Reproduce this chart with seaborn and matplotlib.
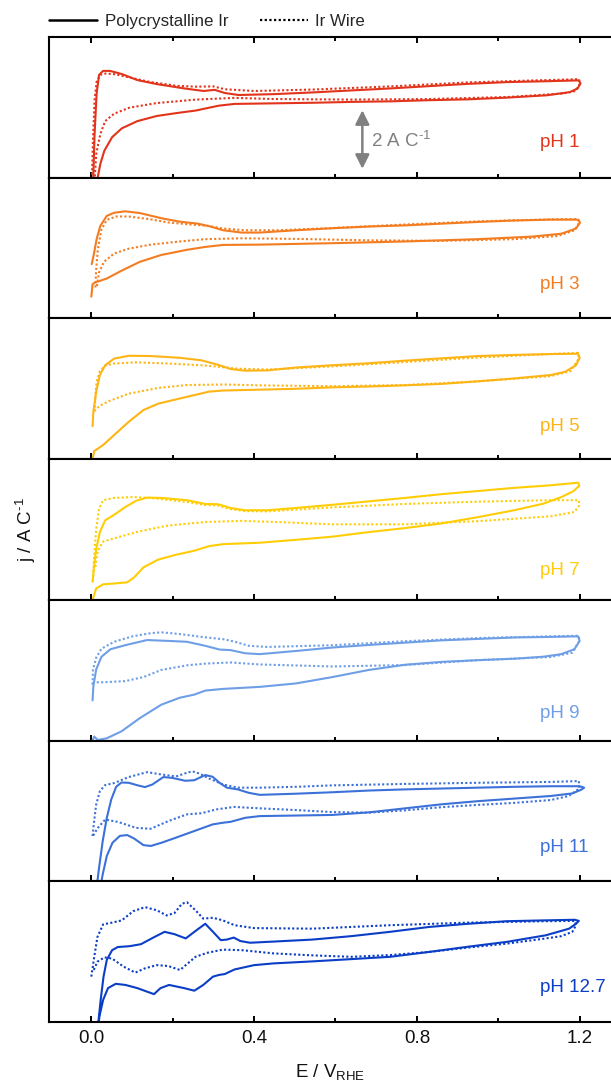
import numpy as np
import pandas as pd
import matplotlib
matplotlib.use("Agg")
import matplotlib.pyplot as plt
from matplotlib.lines import Line2D
import seaborn as sns

# ---------------- data (E in V vs RHE, j in A C^-1, offset to panel centre) -------------
PH_LABELS = ["pH 1", "pH 3", "pH 5", "pH 7", "pH 9", "pH 11", "pH 12.7"]
COLORS = ["#E2331B", "#F47C20", "#FDB515", "#FFCD05", "#6E9FE6", "#3C71D9", "#0B3EC6"]
LABEL_Y = [-1.24, -1.26, -1.30, -1.44, -1.49, -1.28, -1.25]
SCALE_BAR = [-2.14, -0.10]
X_TICKS = [0.0, 0.4, 0.8, 1.2]
X_TICKLABELS = ["0.0", "0.4", "0.8", "1.2"]
X_MINOR = [0.2, 0.6, 1.0]

# pH 1
E_PH1_POLY = [0.004, 0.008, 0.013, 0.019, 0.029, 0.046, 0.075, 0.113, 0.161, 0.228, 0.276, 0.303, 0.328, 0.362,
              0.448, 0.544, 0.640, 0.736, 0.831, 0.927, 1.023, 1.119, 1.198,
              1.202, 1.195, 1.176, 1.119, 1.023, 0.927, 0.831, 0.736, 0.640, 0.544, 0.448, 0.352, 0.314, 0.290,
              0.257, 0.209, 0.161, 0.113, 0.075, 0.051, 0.032, 0.022, 0.014, 0.011]
J_PH1_POLY = [-2.8, -0.93, 0.48, 1.13, 1.27, 1.27, 1.16, 0.95, 0.81, 0.66, 0.57, 0.61, 0.50, 0.43,
              0.46, 0.52, 0.59, 0.66, 0.74, 0.82, 0.88, 0.91, 0.94,
              0.83, 0.66, 0.53, 0.42, 0.34, 0.28, 0.25, 0.21, 0.19, 0.16, 0.14, 0.12, 0.06, -0.01,
              -0.11, -0.20, -0.30, -0.48, -0.73, -1.04, -1.51, -1.98, -2.57, -3.3]
E_PH1_WIRE = [0.001, 0.004, 0.008, 0.013, 0.022, 0.036, 0.060, 0.094, 0.142, 0.209, 0.257, 0.300, 0.328, 0.400,
              0.544, 0.736, 0.927, 1.119, 1.198,
              1.201, 1.190, 1.157, 1.023, 0.831, 0.640, 0.448, 0.352, 0.257, 0.161, 0.094, 0.056, 0.034, 0.022,
              0.012, 0.008]
J_PH1_WIRE = [-2.8, -1.16, 0.25, 0.89, 1.13, 1.18, 1.15, 1.04, 0.89, 0.75, 0.72, 0.73, 0.63, 0.57,
              0.62, 0.73, 0.87, 0.95, 0.98,
              0.83, 0.57, 0.48, 0.36, 0.29, 0.27, 0.29, 0.33, 0.27, 0.15, -0.01, -0.22, -0.48, -0.93,
              -1.63, -2.57]

# pH 3
E_PH3_POLY = [0.001, 0.007, 0.013, 0.022, 0.038, 0.056, 0.083, 0.119, 0.172, 0.217, 0.262, 0.293, 0.324, 0.369,
              0.414, 0.503, 0.592, 0.682, 0.771, 0.860, 0.950, 1.039, 1.129, 1.196,
              1.201, 1.191, 1.155, 1.084, 0.950, 0.771, 0.592, 0.414, 0.324, 0.280, 0.235, 0.172, 0.119,
              0.074, 0.038, 0.009, 0.003, 0.000]
J_PH3_POLY = [-0.56, -0.16, 0.31, 0.77, 1.12, 1.23, 1.28, 1.22, 1.04, 0.92, 0.85, 0.75, 0.62, 0.54,
              0.54, 0.62, 0.69, 0.75, 0.79, 0.85, 0.91, 0.96, 0.99, 0.99,
              0.89, 0.68, 0.50, 0.40, 0.31, 0.23, 0.17, 0.12, 0.11, 0.04, -0.06, -0.24, -0.48,
              -0.79, -1.06, -1.20, -1.26, -1.69]
E_PH3_WIRE = [0.010, 0.012, 0.016, 0.025, 0.038, 0.061, 0.092, 0.146, 0.190, 0.253, 0.284, 0.324, 0.378, 0.458,
              0.592, 0.771, 0.950, 1.129, 1.196,
              1.199, 1.187, 1.146, 1.039, 0.860, 0.682, 0.503, 0.369, 0.280, 0.217, 0.146, 0.092, 0.056,
              0.031, 0.019, 0.013]
J_PH3_WIRE = [-1.37, -0.74, -0.04, 0.65, 0.98, 1.10, 1.10, 1.00, 0.89, 0.81, 0.78, 0.68, 0.62, 0.62,
              0.70, 0.82, 0.93, 1.00, 1.01,
              0.89, 0.62, 0.42, 0.31, 0.25, 0.27, 0.32, 0.34, 0.31, 0.23, 0.12, -0.02, -0.19,
              -0.48, -0.85, -1.37]

# pH 5
E_PH5_POLY = [0.003, 0.005, 0.012, 0.021, 0.034, 0.056, 0.092, 0.146, 0.217, 0.271, 0.315, 0.342, 0.378, 0.432,
              0.503, 0.592, 0.682, 0.771, 0.860, 0.950, 1.039, 1.129, 1.196,
              1.200, 1.191, 1.164, 1.129, 1.039, 0.950, 0.860, 0.771, 0.682, 0.592, 0.503, 0.414, 0.324,
              0.289, 0.253, 0.208, 0.164, 0.128, 0.092, 0.056, 0.029, 0.007, 0.003]
J_PH5_POLY = [-1.30, -0.80, -0.10, 0.48, 0.82, 1.05, 1.15, 1.14, 1.08, 0.99, 0.82, 0.69, 0.63, 0.64,
              0.74, 0.82, 0.89, 0.98, 1.06, 1.14, 1.18, 1.21, 1.22,
              1.08, 0.82, 0.59, 0.48, 0.36, 0.26, 0.17, 0.12, 0.08, 0.05, 0.00, -0.03, -0.06,
              -0.10, -0.22, -0.37, -0.52, -0.74, -1.15, -1.61, -1.96, -2.17, -2.45]
E_PH5_WIRE = [0.008, 0.010, 0.013, 0.021, 0.034, 0.056, 0.110, 0.190, 0.280, 0.324, 0.360, 0.432, 0.592, 0.771,
              0.950, 1.129, 1.196,
              1.198, 1.178, 1.129, 0.950, 0.771, 0.592, 0.414, 0.324, 0.235, 0.164, 0.092, 0.043, 0.021, 0.010]
J_PH5_WIRE = [-0.80, -0.22, 0.24, 0.62, 0.80, 0.88, 0.92, 0.88, 0.81, 0.75, 0.70, 0.67, 0.78, 0.93,
              1.09, 1.21, 1.25,
              1.06, 0.62, 0.44, 0.26, 0.13, 0.09, 0.12, 0.15, 0.13, 0.03, -0.17, -0.43, -0.59, -0.74]

# pH 7
E_PH7_POLY = [0.003, 0.007, 0.012, 0.021, 0.034, 0.056, 0.083, 0.110, 0.137, 0.172, 0.235, 0.280, 0.311, 0.342,
              0.378, 0.432, 0.503, 0.592, 0.682, 0.771, 0.860, 0.950, 1.039, 1.129, 1.196,
              1.199, 1.184, 1.155, 1.111, 1.039, 0.950, 0.860, 0.771, 0.682, 0.592, 0.503, 0.414, 0.324,
              0.289, 0.253, 0.208, 0.164, 0.128, 0.105, 0.088, 0.056, 0.029, 0.012, 0.003]
J_PH7_POLY = [-1.82, -1.26, -0.68, -0.09, 0.32, 0.51, 0.78, 1.00, 1.11, 1.10, 1.02, 0.89, 0.88, 0.75,
              0.67, 0.67, 0.75, 0.86, 0.98, 1.10, 1.23, 1.34, 1.45, 1.54, 1.63,
              1.52, 1.33, 1.13, 0.90, 0.67, 0.43, 0.21, 0.05, -0.09, -0.25, -0.36, -0.46, -0.51,
              -0.58, -0.74, -0.88, -1.05, -1.32, -1.67, -1.84, -1.88, -1.91, -2.05, -2.45]
E_PH7_WIRE = [0.004, 0.007, 0.012, 0.019, 0.029, 0.056, 0.101, 0.146, 0.235, 0.280, 0.311, 0.338, 0.378, 0.432,
              0.592, 0.771, 0.950, 1.129, 1.198,
              1.199, 1.187, 1.129, 0.950, 0.771, 0.592, 0.458, 0.369, 0.280, 0.190, 0.119, 0.065, 0.029,
              0.016, 0.009]
J_PH7_WIRE = [-1.79, -0.91, 0.02, 0.72, 1.02, 1.10, 1.13, 1.10, 0.96, 0.85, 0.84, 0.72, 0.64, 0.63,
              0.77, 0.89, 0.97, 1.02, 1.02,
              0.84, 0.61, 0.46, 0.29, 0.18, 0.18, 0.26, 0.30, 0.26, 0.14, -0.06, -0.27, -0.42,
              -0.74, -1.38]

# pH 9
E_PH9_POLY = [0.003, 0.005, 0.012, 0.025, 0.047, 0.083, 0.137, 0.190, 0.235, 0.280, 0.315, 0.342, 0.378, 0.414,
              0.503, 0.592, 0.682, 0.771, 0.860, 0.950, 1.039, 1.129, 1.196,
              1.200, 1.187, 1.155, 1.111, 1.039, 0.950, 0.860, 0.771, 0.682, 0.592, 0.503, 0.414, 0.324,
              0.280, 0.253, 0.217, 0.172, 0.119, 0.074, 0.038, 0.016, 0.007, 0.003]
J_PH9_POLY = [-1.05, -0.56, 0.03, 0.47, 0.73, 0.87, 1.05, 1.02, 0.99, 0.85, 0.72, 0.70, 0.59, 0.56,
              0.67, 0.79, 0.88, 0.96, 1.04, 1.09, 1.14, 1.16, 1.18,
              1.02, 0.73, 0.56, 0.47, 0.40, 0.35, 0.29, 0.19, 0.01, -0.24, -0.46, -0.58, -0.65,
              -0.71, -0.85, -0.96, -1.20, -1.67, -2.13, -2.37, -2.43, -2.31, -2.45]
E_PH9_WIRE = [0.003, 0.004, 0.012, 0.025, 0.056, 0.101, 0.146, 0.172, 0.217, 0.271, 0.324, 0.351, 0.387, 0.432,
              0.592, 0.771, 0.950, 1.129, 1.198,
              1.199, 1.182, 1.129, 0.950, 0.771, 0.592, 0.414, 0.342, 0.280, 0.235, 0.172, 0.128, 0.083,
              0.029, 0.007, 0.003]
J_PH9_WIRE = [-0.50, 0.01, 0.44, 0.75, 0.99, 1.18, 1.29, 1.32, 1.26, 1.16, 1.08, 1.00, 0.85, 0.81,
              0.87, 1.01, 1.12, 1.18, 1.20,
              1.02, 0.61, 0.46, 0.35, 0.18, 0.13, 0.20, 0.27, 0.23, 0.17, 0.01, -0.24, -0.38,
              -0.42, -0.42, -0.50]

# pH 11
E_PH11_POLY = [0.013, 0.019, 0.028, 0.038, 0.049, 0.061, 0.074, 0.092, 0.114, 0.132, 0.150, 0.177, 0.199, 0.231,
               0.253, 0.280, 0.298, 0.315, 0.333, 0.360, 0.387, 0.414, 0.503, 0.592, 0.682, 0.771, 0.860,
               0.950, 1.039, 1.129, 1.200, 1.211,
               1.204, 1.182, 1.129, 1.039, 0.950, 0.860, 0.771, 0.682, 0.592, 0.503, 0.414, 0.378, 0.342,
               0.324, 0.298, 0.253, 0.208, 0.172, 0.146, 0.128, 0.105, 0.088, 0.070, 0.052, 0.038, 0.028, 0.022]
J_PH11_POLY = [-2.67, -1.98, -1.05, -0.24, 0.40, 0.84, 0.99, 0.98, 0.89, 0.83, 0.92, 1.18, 1.15, 1.05,
               1.07, 1.25, 1.19, 0.98, 0.81, 0.75, 0.63, 0.56, 0.60, 0.65, 0.71, 0.75, 0.78,
               0.81, 0.84, 0.86, 0.86, 0.81,
               0.74, 0.61, 0.52, 0.43, 0.34, 0.23, 0.09, -0.05, -0.14, -0.16, -0.18, -0.24, -0.38,
               -0.41, -0.47, -0.70, -0.93, -1.11, -1.22, -1.19, -0.96, -0.84, -0.87, -1.11, -1.57, -2.21, -2.67]
E_PH11_WIRE = [0.003, 0.007, 0.012, 0.021, 0.034, 0.056, 0.092, 0.137, 0.172, 0.208, 0.235, 0.248, 0.266, 0.289,
               0.324, 0.360, 0.414, 0.503, 0.592, 0.771, 0.950, 1.129, 1.198,
               1.199, 1.173, 1.129, 1.039, 0.950, 0.860, 0.771, 0.682, 0.592, 0.503, 0.414, 0.351, 0.306,
               0.271, 0.235, 0.190, 0.146, 0.110, 0.065, 0.034, 0.016, 0.004]
J_PH11_WIRE = [-0.87, -0.35, 0.23, 0.69, 0.90, 0.97, 1.18, 1.35, 1.27, 1.20, 1.33, 1.38, 1.30, 1.13,
               0.92, 0.81, 0.81, 0.84, 0.89, 0.94, 0.98, 1.01, 1.04,
               0.78, 0.52, 0.38, 0.28, 0.21, 0.13, 0.02, -0.06, -0.04, 0.03, 0.09, 0.14, 0.05,
               -0.08, -0.12, -0.35, -0.62, -0.59, -0.38, -0.30, -0.59, -0.87]

# pH 12.7
E_PH127_POLY = [0.017, 0.023, 0.030, 0.038, 0.051, 0.065, 0.094, 0.122, 0.151, 0.180, 0.204, 0.232, 0.256, 0.280,
                0.299, 0.318, 0.333, 0.350, 0.366, 0.390, 0.447, 0.543, 0.639, 0.734, 0.830, 0.925, 1.021,
                1.117, 1.188, 1.198,
                1.191, 1.174, 1.117, 1.021, 0.925, 0.830, 0.734, 0.639, 0.543, 0.447, 0.400, 0.352, 0.328,
                0.314, 0.299, 0.275, 0.253, 0.228, 0.191, 0.170, 0.154, 0.113, 0.084, 0.060, 0.041, 0.029,
                0.020, 0.017]
J_PH127_POLY = [-2.49, -1.68, -0.87, -0.29, 0.05, 0.16, 0.19, 0.26, 0.48, 0.69, 0.61, 0.46, 0.72, 0.97,
                0.69, 0.40, 0.42, 0.49, 0.37, 0.31, 0.35, 0.42, 0.54, 0.69, 0.86, 0.97, 1.06,
                1.09, 1.11, 1.07,
                0.97, 0.80, 0.57, 0.34, 0.17, -0.01, -0.18, -0.26, -0.34, -0.41, -0.47, -0.62, -0.78,
                -0.81, -0.87, -1.16, -1.36, -1.27, -1.16, -1.27, -1.48, -1.27, -1.16, -1.12, -1.27, -1.68,
                -2.25, -2.60]
E_PH127_WIRE = [0.000, 0.006, 0.015, 0.029, 0.051, 0.075, 0.103, 0.132, 0.161, 0.185, 0.204, 0.223, 0.235,
                0.256, 0.275, 0.299, 0.323, 0.352, 0.400, 0.543, 0.734, 0.925, 1.117, 1.188,
                1.191, 1.182, 1.155, 1.117, 1.021, 0.925, 0.830, 0.734, 0.639, 0.543, 0.447, 0.371, 0.323,
                0.285, 0.256, 0.218, 0.189, 0.161, 0.132, 0.108, 0.079, 0.051, 0.032, 0.015, 0.004]
J_PH127_WIRE = [-0.87, -0.29, 0.51, 0.95, 1.01, 1.09, 1.41, 1.55, 1.44, 1.26, 1.34, 1.67, 1.72,
                1.44, 1.15, 1.18, 1.09, 0.92, 0.82, 0.80, 0.92, 1.01, 1.06, 1.07,
                0.92, 0.69, 0.54, 0.46, 0.28, 0.14, -0.01, -0.12, -0.18, -0.13, -0.06, 0.05, 0.07,
                -0.04, -0.18, -0.64, -0.50, -0.47, -0.58, -0.73, -0.52, -0.24, -0.20, -0.35, -0.70]

POLY = [(E_PH1_POLY, J_PH1_POLY), (E_PH3_POLY, J_PH3_POLY), (E_PH5_POLY, J_PH5_POLY),
        (E_PH7_POLY, J_PH7_POLY), (E_PH9_POLY, J_PH9_POLY), (E_PH11_POLY, J_PH11_POLY),
        (E_PH127_POLY, J_PH127_POLY)]
WIRE = [(E_PH1_WIRE, J_PH1_WIRE), (E_PH3_WIRE, J_PH3_WIRE), (E_PH5_WIRE, J_PH5_WIRE),
        (E_PH7_WIRE, J_PH7_WIRE), (E_PH9_WIRE, J_PH9_WIRE), (E_PH11_WIRE, J_PH11_WIRE),
        (E_PH127_WIRE, J_PH127_WIRE)]

# ---------------- style ----------------
sns.set_theme(style="ticks")
plt.rcParams["font.family"] = ["Liberation Sans", "DejaVu Sans"]
plt.rcParams["mathtext.fontset"] = "custom"
plt.rcParams["mathtext.rm"] = "Liberation Sans"
plt.rcParams["mathtext.it"] = "Liberation Sans:italic"
plt.rcParams["mathtext.bf"] = "Liberation Sans:bold"
plt.rcParams["mathtext.default"] = "regular"

W, H = 611, 1082
fig = plt.figure(figsize=(W / 100, H / 100), dpi=100)
gs = fig.add_gridspec(7, 1, left=49 / W, right=1.0, top=1 - 37 / H, bottom=1 - 1022 / H, hspace=0)
axes = [fig.add_subplot(gs[i]) for i in range(7)]

XMIN, XMAX = -0.104, 1.277
DOT = (0, (1.0, 1.1))
LW = 1.5

for i, ax in enumerate(axes):
    c = COLORS[i]
    ew, jw = WIRE[i]
    ep, jp = POLY[i]
    dfw = pd.DataFrame({"E": ew, "j": jw})
    dfp = pd.DataFrame({"E": ep, "j": jp})
    sns.lineplot(data=dfw, x="E", y="j", sort=False, estimator=None, errorbar=None,
                 color=c, linewidth=LW, linestyle=DOT, ax=ax)
    sns.lineplot(data=dfp, x="E", y="j", sort=False, estimator=None, errorbar=None,
                 color=c, linewidth=LW, ax=ax)
    ax.set_xlim(XMIN, XMAX)
    ax.set_ylim(-2.45, 2.45)
    ax.set_yticks([])
    ax.set_xticks(X_TICKS)
    ax.set_xticks(X_MINOR, minor=True)
    ax.set_xlabel("")
    ax.set_ylabel("")
    ax.tick_params(axis="x", which="both", direction="in", top=(i == 0), bottom=True,
                   labelbottom=(i == 6), color="black", width=1.4)
    ax.tick_params(axis="x", which="major", length=4.5, pad=6, labelsize=13.5, labelcolor="#111111")
    ax.tick_params(axis="x", which="minor", length=2.6)
    if i == 6:
        ax.set_xticklabels(X_TICKLABELS)
    for s in ["left", "bottom", "top"]:
        ax.spines[s].set_color("black")
        ax.spines[s].set_linewidth(1.5)
    ax.spines["right"].set_visible(False)
    ax.text(1.103, LABEL_Y[i], PH_LABELS[i], color=c, fontsize=13.5, ha="left", va="center")

# scale bar in the first panel
axes[0].annotate("", xy=(0.666, SCALE_BAR[1]), xytext=(0.666, SCALE_BAR[0]),
                 arrowprops=dict(arrowstyle="<|-|>,head_length=0.6,head_width=0.3",
                                 color="#808080", lw=1.8, mutation_scale=14,
                                 shrinkA=0, shrinkB=0))
axes[0].text(0.688, -1.16, r"2 A C$^{\text{-1}}$", color="#808080", fontsize=13.5,
             ha="left", va="center")

# axis labels
fig.text(26 / W, 0.5 * ((1 - 37 / H) + (1 - 1022 / H)), r"j / A C$^{\text{-1}}$", rotation=90,
         ha="center", va="center", fontsize=13.5, color="#111111")
fig.text((49 + W) / 2 / W, (H - 1077) / H, "E / V$_{RHE}$", ha="center", va="baseline",
         fontsize=13.5, color="#111111")

# legend
handles = [Line2D([], [], color="black", lw=1.8, linestyle="-"),
           Line2D([], [], color="black", lw=1.6, linestyle=DOT)]
fig.legend(handles, ["Polycrystalline Ir", "Ir Wire"], loc="center left",
           bbox_to_anchor=(49 / W, 1 - 21.5 / H), ncol=2, frameon=False, fontsize=12.2,
           handlelength=2.85, handletextpad=0.44, columnspacing=1.85, borderpad=0, borderaxespad=0)

fig.savefig("out.png", dpi=100)
